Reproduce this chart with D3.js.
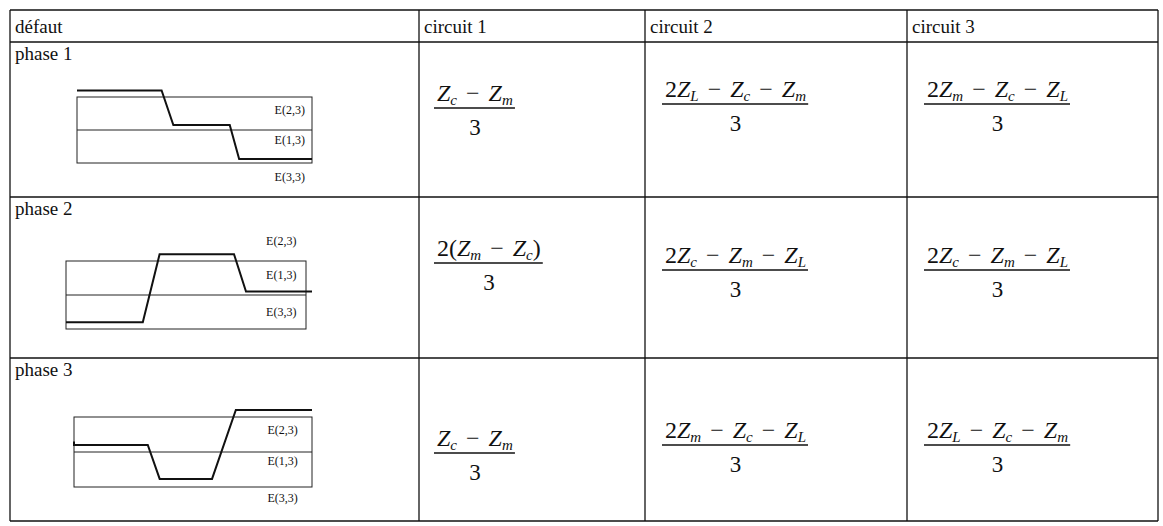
<!DOCTYPE html>
<html>
<head>
<meta charset="utf-8">
<script src="https://cdn.jsdelivr.net/npm/d3@7"></script>
<style>
  body { margin: 0; background: #fff; }
  text { font-family: "Liberation Serif", "Times New Roman", serif; fill: #111; }
  .grid { stroke: #111; stroke-width: 1.3; }
  .box { fill: none; stroke: #222; stroke-width: 1; }
  .trace { fill: none; stroke: #111; stroke-width: 2; }
  .bar { stroke: #111; stroke-width: 1.5; }
</style>
</head>
<body>
<div id="chart"></div>
<script>
const headers = ["défaut", "circuit 1", "circuit 2", "circuit 3"];
const phases = ["phase 1", "phase 2", "phase 3"];

// numerators, one row per phase, one column per circuit ; all over 3
const numerators = [
  ["Z_c − Z_m", "2Z_L − Z_c − Z_m", "2Z_m − Z_c − Z_L"],
  ["2(Z_m − Z_c)", "2Z_c − Z_m − Z_L", "2Z_c − Z_m − Z_L"],
  ["Z_c − Z_m", "2Z_m − Z_c − Z_L", "2Z_L − Z_c − Z_m"]
];
const denominator = "3";

const faultLabels = ["E(2,3)", "E(1,3)", "E(3,3)"];

// traces: [time %, level] ; level 0 = bottom of box, 1 = middle line, 2 = top
const phase1Trace = [[0, 2.2], [36, 2.2], [41, 1.15], [65, 1.15], [69, 0.12], [100, 0.12]];
const phase2Trace = [[0, 0.2], [32, 0.2], [39, 2.2], [70, 2.2], [75, 1.1], [102.5, 1.1]];
const phase3Trace = [[0, 1.3], [0, 1.2], [31, 1.2], [36, 0.23], [58, 0.23], [68, 2.2], [100, 2.2]];
const traces = [phase1Trace, phase2Trace, phase3Trace];

// where the three labels sit, in the same level units
const labelLevels = [[1.48, 0.58, -0.55], [2.47, 1.47, 0.38], [1.51, 0.63, -0.43]];

const width = 1163, height = 526;
const colEdges = [10, 419, 645, 907, 1158];
const rowEdges = [10, 42, 197, 358, 521];

const boxes = [
  {x0: 77, x1: 312, y0: 163, y1: 97, labelAt: 97},
  {x0: 66, x1: 306, y0: 329, y1: 261, labelAt: 96},
  {x0: 74, x1: 312, y0: 487, y1: 417, labelAt: 94}
];
// numerator baselines per row: first circuit, then the two others
const numBase = [[101, 97], [256, 263], [446, 438]];

const colX = d3.scaleOrdinal().domain(headers).range(colEdges.slice(0, 4));
const rowY = d3.scaleOrdinal().domain(["head"].concat(phases)).range(rowEdges.slice(0, 4));

function drawFormula(g, str, x0, yBase) {
  const t = g.append("text")
    .attr("x", x0).attr("y", yBase)
    .style("font-size", "24px").style("white-space", "pre");
  const tokens = str.match(/_[A-Za-z]|[A-Za-z]+|−|[^A-Za-z_−]+/g);
  let shift = 0, pad = 0;
  tokens.forEach(tok => {
    const sub = tok[0] === "_";
    let txt = sub ? tok.slice(1) : tok;
    if (!sub) txt = txt.trim();
    if (txt === "") return;
    const s = t.append("tspan").text(txt)
      .style("font-style", /[A-Za-z]/.test(txt) ? "italic" : "normal");
    let dy = 0;
    if (sub) { s.style("font-size", "15px"); dy = 4 - shift; shift = 4; }
    else { dy = -shift; shift = 0; }
    if (dy) s.attr("dy", dy);
    if (txt === "−") { s.attr("dx", 9); pad = 9; }
    else if (pad) { s.attr("dx", pad); pad = 0; }
  });
  const bb = t.node().getBBox();
  g.append("line").attr("class", "bar")
    .attr("x1", bb.x - 3).attr("x2", bb.x + bb.width + 2)
    .attr("y1", yBase + 7).attr("y2", yBase + 7);
  g.append("text")
    .attr("x", bb.x + bb.width / 2).attr("y", yBase + 34)
    .attr("text-anchor", "middle").style("font-size", "23px")
    .text(denominator);
}

document.addEventListener("DOMContentLoaded", function() {
  const svg = d3.select("#chart").append("svg")
    .attr("width", width).attr("height", height);

  // grid
  svg.selectAll("line.v").data(colEdges).join("line")
    .attr("class", "grid v")
    .attr("x1", d => d).attr("x2", d => d)
    .attr("y1", rowEdges[0]).attr("y2", rowEdges[rowEdges.length - 1]);
  svg.selectAll("line.h").data(rowEdges).join("line")
    .attr("class", "grid h")
    .attr("y1", d => d).attr("y2", d => d)
    .attr("x1", colEdges[0]).attr("x2", colEdges[colEdges.length - 1]);

  // header
  svg.selectAll("text.head").data(headers).join("text")
    .attr("class", "head")
    .attr("x", d => colX(d) + 5)
    .attr("y", rowY("head") + 23)
    .style("font-size", "19px")
    .text(d => d);

  phases.forEach((p, i) => {
    const g = svg.append("g");
    g.append("text")
      .attr("x", colEdges[0] + 5).attr("y", rowY(p) + 18)
      .style("font-size", "19px").text(p);

    const b = boxes[i];
    const x = d3.scaleLinear().domain([0, 100]).range([b.x0, b.x1]);
    const y = d3.scaleLinear().domain([0, 2]).range([b.y0, b.y1]);

    g.append("rect").attr("class", "box")
      .attr("x", x(0)).attr("y", y(2))
      .attr("width", x(100) - x(0)).attr("height", y(0) - y(2));
    g.append("line").attr("class", "box")
      .attr("x1", x(0)).attr("x2", x(100))
      .attr("y1", y(1)).attr("y2", y(1));

    g.append("path").attr("class", "trace")
      .attr("d", d3.line().x(d => x(d[0])).y(d => y(d[1]))(traces[i]));

    g.selectAll("text.lab").data(faultLabels).join("text")
      .attr("class", "lab")
      .attr("x", x(b.labelAt))
      .attr("y", (d, j) => y(labelLevels[i][j]))
      .attr("text-anchor", "end")
      .style("font-size", "12px")
      .text(d => d);

    numerators[i].forEach((f, j) => {
      const left = colEdges[j + 1] + (j === 0 ? 18 : 20);
      drawFormula(g, f, left, numBase[i][j === 0 ? 0 : 1]);
    });
  });
});
</script>
</body>
</html>
